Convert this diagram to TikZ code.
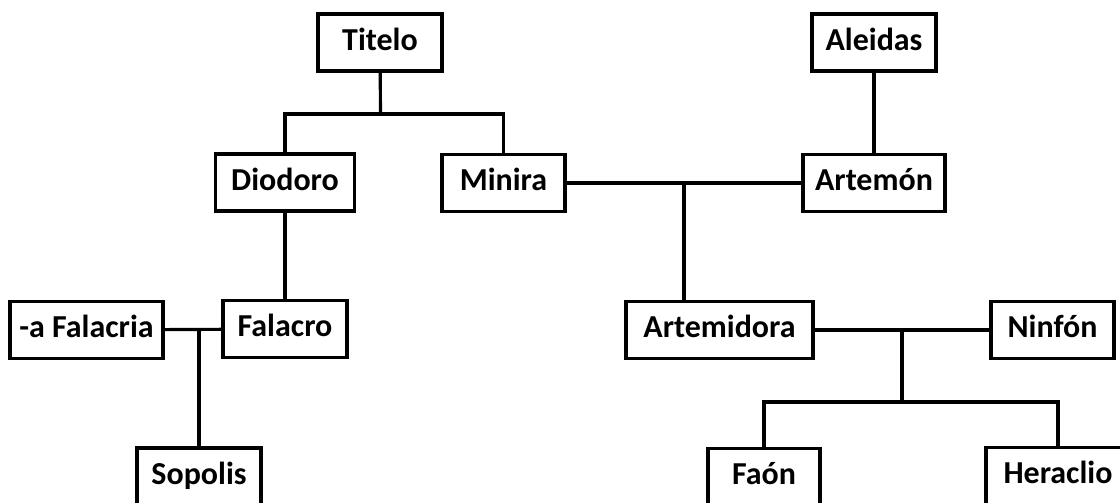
\documentclass[tikz,border=0pt]{standalone}
\usepackage{fontspec}
\setmainfont{Carlito}
\usetikzlibrary{calc}

\begin{document}
\begin{tikzpicture}[x=0.02cm,y=-0.02cm,
        persona/.style={draw,line width=1.9pt,minimum height=1.14cm,inner sep=0pt,
            text height=11.4pt,text depth=2.4pt,font=\fontsize{18.2}{22}\selectfont\bfseries},
        linea/.style={line width=1.8pt}]
        \clip (0,0) rectangle (1120,503);
        \node[persona,minimum width=2.48cm] (titelo) at (380,42.5) {Titelo};
        \node[persona,minimum width=2.48cm] (aleidas) at (874,42.5) {Aleidas};
        \node[persona,minimum width=2.78cm] (diodoro) at (285,182.5) {Diodoro};
        \node[persona,minimum width=2.46cm] (minira) at (503.5,183) {Minira};
        \node[persona,minimum width=2.84cm] (artemon) at (874,183) {Artemón};
        \node[persona,minimum width=3.06cm] (falacria) at (86.5,330) {-a Falacria};
        \node[persona,minimum width=2.48cm] (falacro) at (285,329) {Falacro};
        \node[persona,minimum width=3.74cm] (artemidora) at (719.5,330) {Artemidora};
        \node[persona,minimum width=2.46cm] (ninfon) at (1052.5,330) {Ninfón};
        \node[persona,minimum width=2.48cm] (sopolis) at (199,476.5) {Sopolis};
        \node[persona,minimum width=2.24cm] (faon) at (764,477) {Faón};
        \node[persona,minimum width=2.88cm] (heraclio) at (1058,476) {Heraclio};
        \coordinate (tm) at (380.5,114);
        \coordinate (ma) at (684,183);
        \coordinate (ff) at (199,330);
        \coordinate (an) at (902,330);
        \coordinate (fh) at (902,402);
        \draw[linea] (titelo) -- (tm);
        \draw[linea] (diodoro.north) |- (tm) -| (minira.north);
        \draw[linea] (aleidas) -- (artemon);
        \draw[linea] (minira) -- (artemon);
        \draw[linea] (ma) -- (ma |- artemidora.north);
        \draw[linea] (diodoro) -- (falacro);
        \draw[linea] (falacria) -- (falacro);
        \draw[linea] (ff) -- (sopolis.north);
        \draw[linea] (artemidora) -- (ninfon);
        \draw[linea] (an) -- (fh);
        \draw[linea] (faon.north) |- (fh) -| (heraclio.north);
    \end{tikzpicture}
\end{document}
